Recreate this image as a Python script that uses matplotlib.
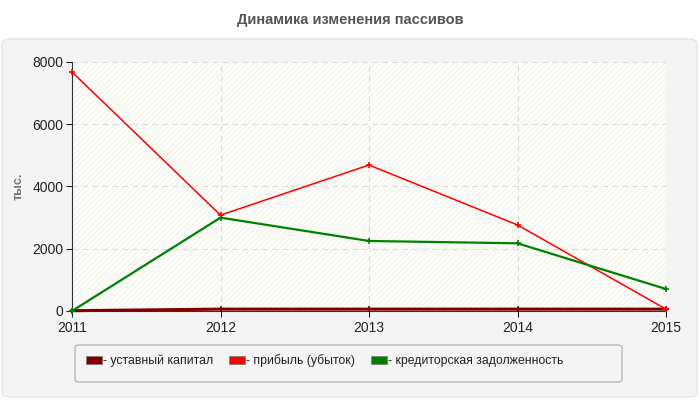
import matplotlib.pyplot as plt
from matplotlib.patches import FancyBboxPatch, Patch
import matplotlib as mpl

years = [2011, 2012, 2013, 2014, 2015]
ustavny = [10, 60, 60, 60, 60]
pribyl = [7680, 3080, 4690, 2765, 60]
kredit = [0, 3000, 2250, 2175, 707]

names = ['- уставный капитал', '- прибыль (убыток)', '- кредиторская задолженность']
colors = ['#800000', '#ff0000', '#008000']

plt.rcParams['font.family'] = ['Liberation Sans', 'DejaVu Sans']
mpl.rcParams['hatch.color'] = '#ededed'
mpl.rcParams['hatch.linewidth'] = 0.5

fig = plt.figure(figsize=(7, 4), dpi=100)
fig.patch.set_facecolor('white')

# rounded panel behind everything
panel = FancyBboxPatch((2 / 700, 3 / 400), 695 / 700, 358 / 400,
                       boxstyle='round,pad=0,rounding_size=0.012',
                       transform=fig.transFigure, facecolor='#f4f4f4',
                       edgecolor='#e2e2e2', linewidth=0.8, zorder=-10)
fig.patches.append(panel)

fig.text(0.5, 1 - 20 / 400, 'Динамика изменения пассивов', ha='center', va='center',
         fontsize=10.5, fontweight='bold', color='#555555')

ax = fig.add_axes([72 / 700, 1 - 311 / 400, 594 / 700, 249 / 400])
ax.set_facecolor('#fdfdf8')
ax.add_patch(plt.Rectangle((0, 0), 1, 1, transform=ax.transAxes, facecolor='none',
                           edgecolor='#ededed', hatch='//////', linewidth=0, zorder=0))

widths = [2.2, 1.1, 1.6]
for vals, c, lw in zip([ustavny, pribyl, kredit], colors, widths):
    ax.plot(years, vals, color=c, linewidth=lw, marker='+', markersize=4,
            markeredgewidth=1.2, zorder=3, clip_on=False)

ax.set_xlim(2011, 2015)
ax.set_ylim(0, 8000)
ax.set_xticks(years)
ax.set_yticks([0, 2000, 4000, 6000, 8000])
ax.grid(True, color='#dddddd', linestyle=(0, (5, 4)), linewidth=0.8)
ax.set_axisbelow(True)
for s in ['top', 'right']:
    ax.spines[s].set_visible(False)
for s in ['left', 'bottom']:
    ax.spines[s].set_color('#333333')
ax.tick_params(labelsize=10, colors='#222222', length=4, width=0.8)
ax.tick_params(axis='y', pad=2)
ax.set_ylabel('тыс.', color='#777777', fontsize=9, fontweight='bold', labelpad=6)

# legend box
box = FancyBboxPatch((75 / 700, 1 - 382 / 400), 547 / 700, 37 / 400,
                     boxstyle='round,pad=0,rounding_size=0.006',
                     transform=fig.transFigure, facecolor='#f4f4f4',
                     edgecolor='#aaaaaa', linewidth=0.8, zorder=-5)
fig.patches.append(box)

handles = [Patch(facecolor=c, edgecolor='#777777', linewidth=0.5) for c in colors]
leg = fig.legend(handles, names, loc='center left', bbox_to_anchor=(76 / 700, 1 - 361 / 400),
                 ncol=3, frameon=False, fontsize=8.8, handlelength=1.3, handleheight=0.65,
                 handletextpad=0.1, columnspacing=1.3, borderpad=0.3)
for t in leg.get_texts():
    t.set_color('#222222')

fig.savefig('out.png', dpi=100)
